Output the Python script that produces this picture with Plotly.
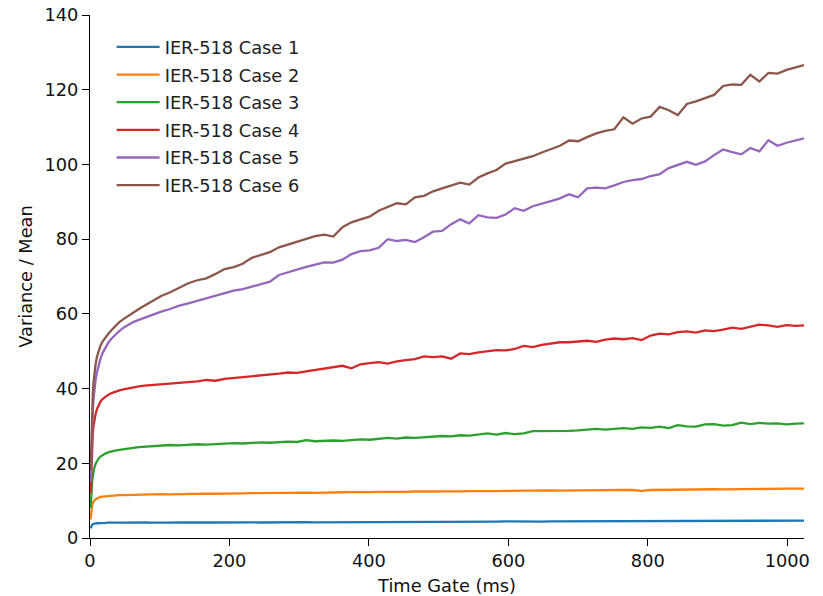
import plotly.graph_objects as go

# Time gate widths (ms)
gate_ms = [
    1, 2, 3, 4, 5, 6, 8, 10, 12, 15, 18, 22, 26, 31, 36, 42, 48, 55, 62, 70, 78, 86, 94,
    102, 115, 128, 141, 154, 167, 180, 193, 206, 219,
    232, 245, 258, 271, 284, 297, 310, 323, 336, 349,
    362, 375, 388, 401, 414, 427, 440, 453, 466, 479,
    492, 505, 518, 531, 544, 557, 570, 583, 596, 609,
    622, 635, 648, 661, 674, 687, 700, 713, 726, 739,
    752, 765, 778, 791, 804, 817, 830, 843, 856, 869,
    882, 895, 908, 921, 934, 947, 960, 973, 986, 999,
    1012, 1024,
]

case1 = [
    2.6, 3.2, 3.5, 3.7, 3.8, 3.85, 3.9, 3.95, 4.0, 4.0, 4.05, 4.05, 4.1, 4.05, 4.1, 4.1, 4.1, 4.15, 4.1, 4.1, 4.15, 4.1, 4.15,
    4.15, 4.10, 4.15, 4.20, 4.10, 4.15, 4.15, 4.20, 4.15, 4.20,
    4.20, 4.15, 4.20, 4.20, 4.25, 4.20, 4.25, 4.20, 4.20, 4.25,
    4.30, 4.25, 4.30, 4.30, 4.25, 4.30, 4.30, 4.35, 4.30, 4.30,
    4.35, 4.35, 4.30, 4.40, 4.35, 4.35, 4.40, 4.40, 4.45, 4.40,
    4.40, 4.45, 4.40, 4.45, 4.45, 4.50, 4.45, 4.50, 4.50, 4.45,
    4.50, 4.50, 4.55, 4.45, 4.50, 4.55, 4.60, 4.60, 4.55, 4.60,
    4.55, 4.60, 4.60, 4.55, 4.60, 4.60, 4.55, 4.60, 4.60, 4.65,
    4.65, 4.65,
]

case2 = [
    5.0, 7.5, 8.7, 9.3, 9.7, 10.0, 10.4, 10.6, 10.8, 11.0, 11.1, 11.2, 11.3, 11.35, 11.4, 11.5, 11.5, 11.55, 11.6, 11.6, 11.65, 11.7, 11.7,
    11.75, 11.70, 11.80, 11.80, 11.85, 11.90, 11.85, 11.95, 11.90, 11.95,
    12.00, 12.05, 12.00, 12.10, 12.05, 12.10, 12.15, 12.10, 12.20, 12.15,
    12.25, 12.30, 12.25, 12.30, 12.35, 12.30, 12.40, 12.35, 12.45, 12.40,
    12.45, 12.50, 12.45, 12.50, 12.55, 12.50, 12.60, 12.55, 12.60, 12.65,
    12.60, 12.70, 12.65, 12.75, 12.70, 12.75, 12.80, 12.75, 12.85, 12.80,
    12.85, 12.90, 12.85, 12.60, 12.85, 12.90, 12.95, 12.90, 13.00, 12.95,
    13.00, 13.05, 13.00, 13.05, 13.10, 13.05, 13.10, 13.10, 13.15, 13.20,
    13.20, 13.20,
]

case3 = [
    8.0, 12.5, 15.0, 16.5, 17.7, 18.6, 19.8, 20.6, 21.2, 21.8, 22.2, 22.6, 22.9, 23.2, 23.4, 23.6, 23.8, 24.0, 24.1, 24.3, 24.4, 24.5, 24.6,
    24.7, 24.9, 24.8, 25.0, 25.1, 25.0, 25.2, 25.3, 25.4, 25.3,
    25.5, 25.6, 25.5, 25.7, 25.8, 25.7, 26.2, 25.9, 26.0, 26.1,
    26.0, 26.3, 26.4, 26.3, 26.6, 26.8, 26.6, 26.9, 26.8, 27.0,
    27.1, 27.3, 27.2, 27.5, 27.4, 27.6, 28.0, 27.7, 28.1, 27.8,
    28.0, 28.6, 28.6, 28.5, 28.6, 28.7, 28.8, 28.9, 29.2, 29.0,
    29.3, 29.4, 29.2, 29.6, 29.5, 29.8, 29.4, 30.2, 29.9, 29.8,
    30.4, 30.5, 30.1, 30.2, 30.9, 30.5, 30.8, 30.6, 30.7, 30.4,
    30.6, 30.7,
]

case4 = [
    12.0, 20.0, 25.0, 28.0, 30.0, 31.5, 33.2, 34.5, 35.5, 36.5, 37.2, 37.8, 38.3, 38.8, 39.2, 39.5, 39.8, 40.1, 40.4, 40.6, 40.8, 40.9, 41.0,
    41.1, 41.4, 41.6, 41.7, 41.9, 42.3, 42.1, 42.6, 42.8, 43.1,
    43.3, 43.6, 43.8, 44.0, 44.3, 44.2, 44.6, 45.0, 45.2, 45.6,
    46.1, 45.4, 46.5, 46.8, 47.1, 46.7, 47.3, 47.6, 47.9, 48.6,
    48.4, 48.6, 48.0, 49.4, 49.2, 49.7, 49.9, 50.3, 50.2, 50.6,
    51.4, 51.1, 51.7, 52.1, 52.4, 52.4, 52.6, 52.8, 52.5, 53.1,
    53.4, 53.2, 53.5, 53.0, 54.2, 54.7, 54.5, 55.1, 55.3, 55.0,
    55.6, 55.4, 55.8, 56.3, 56.0, 56.6, 57.1, 56.9, 56.5, 57.0,
    56.8, 56.9,
]

case5 = [
    15.0, 24.0, 30.0, 34.0, 37.0, 39.3, 42.3, 44.3, 46.0, 48.0, 49.5, 51.0, 52.2, 53.4, 54.4, 55.4, 56.3, 57.1, 57.8, 58.4, 59.0, 59.5, 60.0,
    60.6, 61.3, 62.2, 62.8, 63.5, 64.1, 64.8, 65.5, 66.2, 66.6,
    67.3, 67.8, 68.6, 70.4, 71.2, 71.9, 72.6, 73.2, 73.8, 73.7,
    74.5, 76.0, 76.8, 77.0, 77.7, 80.0, 79.5, 79.8, 79.2, 80.5,
    82.0, 82.2, 84.0, 85.3, 84.2, 86.4, 85.8, 85.7, 86.6, 88.3,
    87.6, 88.8, 89.6, 90.2, 90.9, 92.0, 91.2, 93.6, 93.8, 93.6,
    94.4, 95.3, 95.8, 96.1, 96.9, 97.4, 99.0, 99.8, 100.7, 99.9,
    100.8, 102.5, 104.0, 103.3, 102.7, 104.4, 103.5, 106.5, 105.0, 105.8,
    106.4, 107.0,
]

case6 = [
    18.0, 28.0, 34.5, 38.5, 41.5, 43.5, 46.5, 48.5, 50.0, 51.5, 52.6, 53.7, 54.6, 55.7, 56.7, 57.8, 58.6, 59.5, 60.5, 61.3, 62.2, 63.0, 63.8,
    64.8, 65.8, 67.0, 68.2, 69.0, 69.5, 70.7, 72.0, 72.5, 73.4,
    75.0, 75.8, 76.5, 77.8, 78.6, 79.4, 80.0, 80.8, 81.2, 80.7,
    83.2, 84.5, 85.3, 86.0, 87.6, 88.5, 89.6, 89.3, 91.2, 91.6,
    92.8, 93.6, 94.4, 95.1, 94.6, 96.5, 97.6, 98.5, 100.2, 100.9,
    101.4, 102.2, 103.2, 104.0, 105.0, 106.4, 106.2, 107.3, 108.3, 109.0,
    109.4, 112.6, 110.9, 112.3, 112.8, 115.4, 114.5, 113.2, 116.2, 116.9,
    117.8, 118.6, 121.0, 121.4, 121.3, 124.0, 122.2, 124.5, 124.3, 125.3,
    126.0, 126.6,
]

series_names = [f"IER-518 Case {i}" for i in range(1, 7)]
series_values = [case1, case2, case3, case4, case5, case6]
colors = ["#1f77b4", "#ff7f0e", "#2ca02c", "#d62728", "#9467bd", "#8c564b"]

FONT = "DejaVu Sans"
FS = 17.8

fig = go.Figure()
for i, (name, vals, col) in enumerate(zip(series_names, series_values, colors)):
    assert len(vals) == len(gate_ms), name
    fig.add_trace(go.Scatter(
        x=gate_ms, y=vals, mode="lines", name=name,
        line=dict(color=col, width=2.3),
        legendgroup=f"g{i}",
    ))

axis_common = dict(
    showgrid=False, zeroline=False, automargin=False,
    showline=True, linecolor="black", linewidth=1.2,
    ticks="outside", ticklen=7, tickwidth=1.2, tickcolor="black",
    tickfont=dict(family=FONT, size=FS, color="#111"),
    mirror=False,
)

fig.update_layout(
    width=823, height=596,
    paper_bgcolor="white", plot_bgcolor="white",
    margin=dict(l=90, r=19, t=15, b=58, autoexpand=False),
    font=dict(family=FONT, size=FS, color="#111"),
    xaxis=dict(
        range=[0, 1024], tickvals=[0, 200, 400, 600, 800, 1000],
        title=dict(text="Time Gate (ms)", font=dict(family=FONT, size=FS), standoff=10),
        **axis_common,
    ),
    yaxis=dict(
        range=[0, 140], tickvals=[0, 20, 40, 60, 80, 100, 120, 140],
        title=dict(text="Variance / Mean", font=dict(family=FONT, size=FS), standoff=7),
        **axis_common,
    ),
    legend=dict(
        x=0.0303, y=0.9735, xanchor="left", yanchor="top",
        bgcolor="rgba(0,0,0,0)", borderwidth=0,
        font=dict(family=FONT, size=FS, color="#222"),
        traceorder="grouped", tracegroupgap=1.5,
        itemwidth=43,
    ),
    showlegend=True,
)

fig.write_html("out.html")
